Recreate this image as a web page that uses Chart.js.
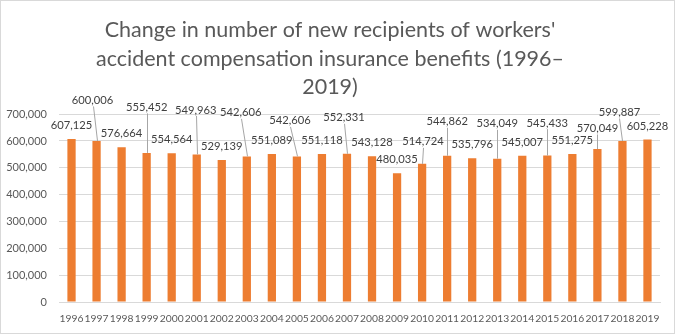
<!DOCTYPE html>
<html>
<head>
<meta charset="utf-8">
<script src="https://cdn.jsdelivr.net/npm/chart.js@4"></script>
<style>
html,body{margin:0;padding:0;background:#fff;}
#wrap{width:675px;height:334px;position:relative;}
</style>
</head>
<body>
<div id="wrap"><canvas id="c"></canvas></div>
<script>
const years = ['1996','1997','1998','1999','2000','2001','2002','2003','2004','2005','2006','2007','2008','2009','2010','2011','2012','2013','2014','2015','2016','2017','2018','2019'];
const recipients = [607125,600006,576664,555452,554564,549963,529139,542606,551089,542606,551118,552331,543128,480035,514724,544862,535796,534049,545007,545433,551275,570049,599887,605228];
const titleLines = ["Change in number of new recipients of workers'", "accident compensation insurance benefits (1996\u2013", "2019)"];
const yMax = 700000;
const yStep = 100000;

// style: label nudges in px [dx, dy] (layout only, Excel-like leader-line placements)
const labelNudges = [[0,0],[-4,-27],[0,0],[0,-32],[0,0],[-1,-31],[0,0],[-6,-30],[0,0],[-7,-22],[0,0],[-3,-22.5],[0,0],[0,0],[1,-8.5],[0,-20.5],[0,0],[0,-21.4],[0,0],[0,-19],[0,0],[0,-7],[-3,-15],[0,0]];

const FONT = 'Lato, "Liberation Sans", sans-serif';
const TXT = '#595959';
const fmt = v => v.toLocaleString('en-US');

const bgBorder = {
  id: 'bgBorder',
  beforeDraw(chart) {
    const {ctx, width, height} = chart;
    ctx.save();
    ctx.fillStyle = '#fff';
    ctx.fillRect(0,0,width,height);
    ctx.strokeStyle = '#d9d9d9';
    ctx.lineWidth = 1;
    ctx.strokeRect(0.5,0.5,width-1,height-1);
    ctx.restore();
  }
};

const dataLabels = {
  id: 'dataLabels',
  afterDatasetsDraw(chart) {
    const {ctx} = chart;
    const meta = chart.getDatasetMeta(0);
    ctx.save();
    ctx.font = '11.2px ' + FONT;
    ctx.textAlign = 'center';
    ctx.textBaseline = 'middle';
    meta.data.forEach((bar, i) => {
      const [dx, dy] = labelNudges[i];
      const lx = bar.x + dx;
      const ly = bar.y - 13.5 + dy;
      if (dy < -5) {
        ctx.strokeStyle = '#a6a6a6';
        ctx.lineWidth = 1;
        ctx.beginPath();
        ctx.moveTo(Math.round(lx) + 0.5, ly + 6);
        ctx.lineTo(Math.round(bar.x) + 0.5, bar.y);
        ctx.stroke();
      }
      ctx.fillStyle = '#404040';
      ctx.fillText(fmt(chart.data.datasets[0].data[i]), lx, ly);
    });
    ctx.restore();
  }
};

new Chart(document.getElementById('c'), {
  type: 'bar',
  data: {
    labels: years,
    datasets: [{
      data: recipients,
      backgroundColor: '#ED7D31',
      borderWidth: 0,
      categoryPercentage: 1,
      barPercentage: 0.33
    }]
  },
  options: {
    responsive: true,
    maintainAspectRatio: false,
    animation: false,
    layout: {padding: {left: 0, right: 15, top: 0, bottom: 0}},
    plugins: {
      legend: {display: false},
      tooltip: {enabled: false},
      title: {
        display: true,
        text: titleLines,
        color: TXT,
        font: {family: FONT, size: 21.5, weight: 'normal', lineHeight: 1.32},
        padding: {top: 16, bottom: 13}
      }
    },
    scales: {
      x: {
        grid: {display: false, drawTicks: false},
        border: {display: true, color: '#d9d9d9'},
        ticks: {color: TXT, font: {family: FONT, size: 10.3}, maxRotation: 0, autoSkip: false, padding: 10},
        afterFit(s) { s.height = 32; }
      },
      y: {
        min: 0, max: yMax,
        grid: {color: '#d9d9d9', drawTicks: false},
        border: {display: false},
        ticks: {stepSize: yStep, color: TXT, font: {family: FONT, size: 11}, padding: 12, callback: v => fmt(v)},
        afterFit(s) { s.width = 59; }
      }
    }
  },
  plugins: [bgBorder, dataLabels]
});
</script>
</body>
</html>
